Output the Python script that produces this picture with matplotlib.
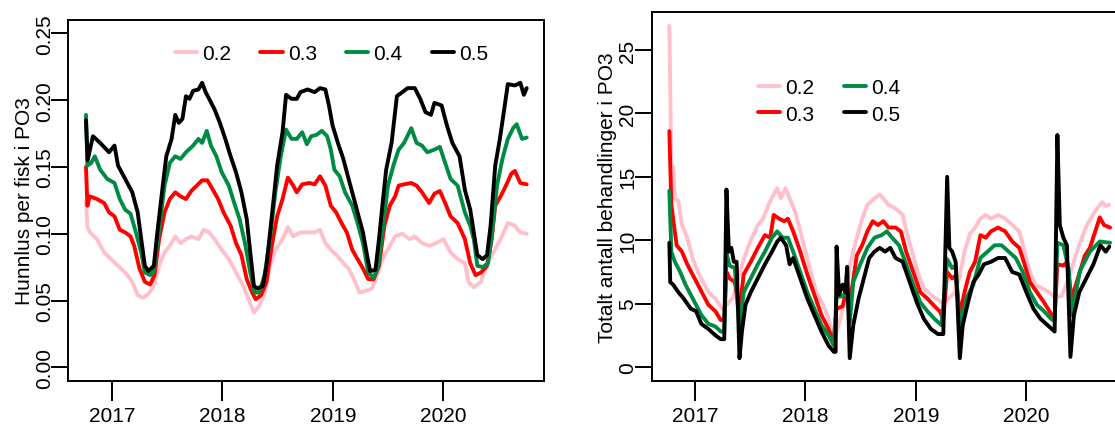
import matplotlib.pyplot as plt

plt.rcParams['font.family'] = ['Liberation Sans', 'DejaVu Sans']

years = [2017, 2018, 2019, 2020]
levels = ['0.2', '0.3', '0.4', '0.5']
colors = ['#FFC0CB', '#FF0000', '#008B45', '#000000']

# Hunnlus per fisk i PO3 (decimal year, value) for each level
lus_t_02 = [2016.765, 2016.778, 2016.800, 2016.864, 2016.929, 2016.990, 2017.055, 2017.120, 2017.184, 2017.233,
            2017.282, 2017.330, 2017.379, 2017.427, 2017.476, 2017.524, 2017.573, 2017.621, 2017.670, 2017.718,
            2017.783, 2017.832, 2017.880, 2017.929, 2017.994, 2018.058, 2018.123, 2018.188, 2018.236, 2018.285,
            2018.333, 2018.382, 2018.430, 2018.479, 2018.544, 2018.592, 2018.641, 2018.706, 2018.770, 2018.835,
            2018.883, 2018.932, 2018.981, 2019.045, 2019.094, 2019.142, 2019.191, 2019.239, 2019.288, 2019.353,
            2019.401, 2019.450, 2019.515, 2019.563, 2019.628, 2019.693, 2019.741, 2019.806, 2019.871, 2019.935,
            2020.000, 2020.065, 2020.129, 2020.194, 2020.227, 2020.275, 2020.340, 2020.388, 2020.453, 2020.518,
            2020.583, 2020.647, 2020.696, 2020.754]
lus_02 = [0.125, 0.105, 0.101, 0.096, 0.086, 0.081, 0.076, 0.071, 0.064, 0.054,
          0.052, 0.055, 0.061, 0.076, 0.086, 0.091, 0.098, 0.093, 0.096, 0.098,
          0.096, 0.103, 0.101, 0.096, 0.088, 0.081, 0.071, 0.061, 0.051, 0.041,
          0.046, 0.056, 0.076, 0.088, 0.096, 0.105, 0.098, 0.101, 0.101, 0.101,
          0.103, 0.093, 0.088, 0.083, 0.078, 0.074, 0.066, 0.056, 0.057, 0.059,
          0.069, 0.081, 0.091, 0.098, 0.100, 0.096, 0.098, 0.093, 0.091, 0.093,
          0.096, 0.086, 0.081, 0.078, 0.064, 0.060, 0.064, 0.076, 0.086, 0.096,
          0.108, 0.106, 0.101, 0.100]

lus_t_03 = [2016.765, 2016.778, 2016.800, 2016.864, 2016.929, 2016.974, 2017.023, 2017.071, 2017.120, 2017.168,
            2017.201, 2017.249, 2017.298, 2017.346, 2017.385, 2017.427, 2017.476, 2017.524, 2017.573, 2017.621,
            2017.670, 2017.718, 2017.767, 2017.816, 2017.864, 2017.913, 2017.961, 2018.010, 2018.074, 2018.123,
            2018.172, 2018.220, 2018.269, 2018.301, 2018.350, 2018.398, 2018.447, 2018.495, 2018.544, 2018.592,
            2018.641, 2018.673, 2018.722, 2018.786, 2018.835, 2018.883, 2018.932, 2018.981, 2019.029, 2019.078,
            2019.126, 2019.175, 2019.223, 2019.272, 2019.320, 2019.369, 2019.417, 2019.466, 2019.515, 2019.563,
            2019.595, 2019.644, 2019.709, 2019.757, 2019.806, 2019.871, 2019.919, 2019.968, 2020.016, 2020.065,
            2020.129, 2020.194, 2020.243, 2020.291, 2020.340, 2020.395, 2020.437, 2020.469, 2020.518, 2020.566,
            2020.615, 2020.647, 2020.696, 2020.754]
lus_03 = [0.150, 0.121, 0.128, 0.126, 0.123, 0.116, 0.113, 0.103, 0.101, 0.098,
          0.091, 0.074, 0.064, 0.062, 0.069, 0.096, 0.116, 0.126, 0.131, 0.128,
          0.126, 0.132, 0.136, 0.140, 0.140, 0.133, 0.126, 0.116, 0.106, 0.093,
          0.084, 0.066, 0.056, 0.051, 0.054, 0.064, 0.091, 0.113, 0.126, 0.142,
          0.136, 0.131, 0.137, 0.138, 0.137, 0.143, 0.136, 0.121, 0.116, 0.108,
          0.101, 0.088, 0.081, 0.074, 0.066, 0.066, 0.076, 0.106, 0.121, 0.128,
          0.136, 0.137, 0.138, 0.136, 0.131, 0.123, 0.130, 0.132, 0.123, 0.113,
          0.108, 0.096, 0.078, 0.069, 0.071, 0.076, 0.096, 0.121, 0.128, 0.136,
          0.145, 0.147, 0.138, 0.137]

lus_t_04 = [2016.765, 2016.778, 2016.812, 2016.845, 2016.893, 2016.958, 2017.023, 2017.071, 2017.120, 2017.168,
            2017.217, 2017.265, 2017.298, 2017.346, 2017.379, 2017.427, 2017.476, 2017.524, 2017.573, 2017.621,
            2017.670, 2017.735, 2017.783, 2017.816, 2017.858, 2017.896, 2017.945, 2017.994, 2018.058, 2018.107,
            2018.155, 2018.204, 2018.252, 2018.291, 2018.333, 2018.382, 2018.430, 2018.479, 2018.528, 2018.576,
            2018.625, 2018.673, 2018.722, 2018.764, 2018.803, 2018.851, 2018.900, 2018.948, 2018.981, 2019.013,
            2019.061, 2019.110, 2019.175, 2019.223, 2019.272, 2019.320, 2019.369, 2019.411, 2019.450, 2019.498,
            2019.547, 2019.595, 2019.644, 2019.709, 2019.757, 2019.806, 2019.854, 2019.919, 2019.968, 2020.016,
            2020.065, 2020.129, 2020.194, 2020.243, 2020.275, 2020.307, 2020.356, 2020.404, 2020.437, 2020.485,
            2020.534, 2020.583, 2020.631, 2020.663, 2020.712, 2020.754]
lus_04 = [0.189, 0.151, 0.153, 0.158, 0.148, 0.141, 0.138, 0.126, 0.118, 0.115,
          0.101, 0.086, 0.071, 0.069, 0.072, 0.103, 0.136, 0.153, 0.158, 0.156,
          0.161, 0.166, 0.171, 0.168, 0.177, 0.166, 0.158, 0.146, 0.136, 0.123,
          0.111, 0.093, 0.071, 0.056, 0.056, 0.069, 0.096, 0.131, 0.158, 0.178,
          0.171, 0.171, 0.176, 0.167, 0.173, 0.174, 0.177, 0.173, 0.163, 0.148,
          0.143, 0.131, 0.121, 0.108, 0.093, 0.071, 0.067, 0.076, 0.103, 0.136,
          0.151, 0.163, 0.168, 0.179, 0.168, 0.166, 0.161, 0.163, 0.165, 0.153,
          0.141, 0.136, 0.116, 0.106, 0.096, 0.076, 0.075, 0.078, 0.098, 0.136,
          0.156, 0.171, 0.179, 0.182, 0.171, 0.172]

lus_t_05 = [2016.765, 2016.780, 2016.828, 2016.893, 2016.974, 2017.023, 2017.055, 2017.120, 2017.184, 2017.233,
            2017.265, 2017.298, 2017.330, 2017.379, 2017.411, 2017.460, 2017.492, 2017.540, 2017.573, 2017.605,
            2017.638, 2017.670, 2017.702, 2017.735, 2017.783, 2017.816, 2017.848, 2017.880, 2017.929, 2017.977,
            2018.026, 2018.074, 2018.123, 2018.172, 2018.220, 2018.252, 2018.285, 2018.317, 2018.366, 2018.398,
            2018.447, 2018.495, 2018.544, 2018.576, 2018.625, 2018.673, 2018.706, 2018.770, 2018.835, 2018.883,
            2018.932, 2018.964, 2018.997, 2019.045, 2019.094, 2019.142, 2019.191, 2019.239, 2019.272, 2019.304,
            2019.337, 2019.385, 2019.417, 2019.450, 2019.482, 2019.531, 2019.579, 2019.628, 2019.676, 2019.741,
            2019.790, 2019.838, 2019.887, 2019.919, 2019.984, 2020.032, 2020.081, 2020.146, 2020.194, 2020.243,
            2020.275, 2020.307, 2020.356, 2020.395, 2020.427, 2020.469, 2020.511, 2020.550, 2020.583, 2020.647,
            2020.696, 2020.728, 2020.754]
lus_05 = [0.185, 0.155, 0.173, 0.168, 0.161, 0.166, 0.151, 0.141, 0.131, 0.116,
          0.096, 0.076, 0.072, 0.076, 0.101, 0.136, 0.158, 0.171, 0.189, 0.183,
          0.186, 0.203, 0.201, 0.207, 0.208, 0.213, 0.206, 0.201, 0.193, 0.183,
          0.171, 0.158, 0.146, 0.131, 0.111, 0.086, 0.061, 0.059, 0.061, 0.076,
          0.113, 0.151, 0.176, 0.204, 0.201, 0.201, 0.206, 0.208, 0.206, 0.209,
          0.208, 0.196, 0.181, 0.168, 0.156, 0.141, 0.126, 0.111, 0.101, 0.086,
          0.072, 0.073, 0.096, 0.123, 0.148, 0.168, 0.203, 0.206, 0.209, 0.209,
          0.201, 0.191, 0.189, 0.198, 0.196, 0.181, 0.168, 0.158, 0.133, 0.118,
          0.101, 0.084, 0.081, 0.084, 0.106, 0.151, 0.171, 0.193, 0.212, 0.211,
          0.213, 0.204, 0.209]

# Totalt antall behandlinger i PO3 (decimal year, value) for each level
beh_t_02 = [2016.768, 2016.786, 2016.802, 2016.818, 2016.850, 2016.882, 2016.930, 2016.978, 2017.026, 2017.074,
            2017.122, 2017.185, 2017.249, 2017.297, 2017.345, 2017.393, 2017.441, 2017.505, 2017.569, 2017.617,
            2017.665, 2017.713, 2017.745, 2017.777, 2017.819, 2017.857, 2017.905, 2017.953, 2018.001, 2018.049,
            2018.097, 2018.161, 2018.209, 2018.241, 2018.273, 2018.305, 2018.353, 2018.401, 2018.465, 2018.513,
            2018.561, 2018.625, 2018.673, 2018.705, 2018.752, 2018.816, 2018.880, 2018.928, 2018.976, 2019.024,
            2019.072, 2019.136, 2019.200, 2019.248, 2019.296, 2019.344, 2019.392, 2019.440, 2019.488, 2019.536,
            2019.584, 2019.632, 2019.680, 2019.744, 2019.808, 2019.872, 2019.936, 2019.984, 2020.032, 2020.080,
            2020.144, 2020.208, 2020.256, 2020.320, 2020.384, 2020.457, 2020.547, 2020.639, 2020.687, 2020.719,
            2020.751]
beh_02 = [26.9, 16.0, 15.8, 13.3, 13.1, 11.2, 10.2, 8.6, 7.5, 6.7,
          5.9, 5.4, 4.6, 5.0, 5.5, 7.0, 8.5, 10.0, 11.2, 11.7,
          12.8, 13.6, 14.1, 13.3, 14.1, 13.3, 12.3, 10.7, 9.1, 7.5,
          5.9, 4.9, 3.8, 2.8, 2.5, 3.5, 5.0, 8.0, 10.2, 11.7,
          12.8, 13.3, 13.6, 13.3, 12.8, 12.5, 12.0, 10.2, 8.8, 7.3,
          6.2, 5.7, 5.3, 5.0, 5.4, 5.8, 7.0, 9.1, 10.5, 11.0,
          11.7, 12.0, 11.7, 12.0, 11.7, 11.2, 10.7, 9.1, 7.5, 6.5,
          6.2, 5.9, 5.5, 5.6, 7.0, 9.1, 11.2, 12.5, 13.0, 12.7,
          12.8]

beh_t_03 = [2016.768, 2016.786, 2016.802, 2016.834, 2016.882, 2016.930, 2016.978, 2017.026, 2017.074, 2017.122,
            2017.185, 2017.233, 2017.265, 2017.285, 2017.313, 2017.361, 2017.403, 2017.441, 2017.505, 2017.569,
            2017.633, 2017.681, 2017.713, 2017.761, 2017.809, 2017.841, 2017.889, 2017.953, 2018.017, 2018.081,
            2018.145, 2018.209, 2018.257, 2018.282, 2018.337, 2018.369, 2018.401, 2018.465, 2018.513, 2018.561,
            2018.609, 2018.657, 2018.705, 2018.752, 2018.816, 2018.864, 2018.912, 2018.976, 2019.040, 2019.104,
            2019.168, 2019.216, 2019.248, 2019.283, 2019.328, 2019.360, 2019.398, 2019.440, 2019.488, 2019.536,
            2019.584, 2019.632, 2019.680, 2019.744, 2019.808, 2019.872, 2019.936, 2019.984, 2020.032, 2020.096,
            2020.160, 2020.224, 2020.256, 2020.281, 2020.335, 2020.367, 2020.410, 2020.530, 2020.575, 2020.665,
            2020.703, 2020.758]
beh_03 = [18.6, 12.8, 11.7, 9.6, 9.1, 8.1, 7.3, 6.5, 5.7, 4.9,
          4.4, 3.7, 3.8, 7.5, 7.0, 6.7, 4.5, 7.3, 8.3, 9.4,
          10.4, 10.2, 12.0, 11.7, 11.5, 11.7, 10.7, 9.1, 7.3, 5.7,
          4.1, 3.0, 2.0, 4.6, 4.8, 6.0, 5.0, 8.8, 9.6, 10.7,
          11.5, 11.2, 11.5, 11.0, 11.0, 10.7, 9.1, 7.5, 5.9, 5.4,
          4.8, 4.4, 3.8, 7.5, 7.0, 7.2, 4.1, 5.9, 7.5, 8.3,
          10.4, 10.2, 10.7, 11.0, 10.7, 9.9, 9.4, 8.1, 6.7, 5.9,
          5.1, 4.2, 3.9, 8.1, 8.0, 8.3, 5.4, 8.8, 9.4, 11.8,
          11.2, 11.0]

beh_t_04 = [2016.768, 2016.786, 2016.818, 2016.866, 2016.914, 2016.962, 2017.010, 2017.058, 2017.122, 2017.185,
            2017.233, 2017.265, 2017.285, 2017.313, 2017.361, 2017.403, 2017.441, 2017.505, 2017.569, 2017.633,
            2017.697, 2017.745, 2017.793, 2017.841, 2017.889, 2017.953, 2018.017, 2018.081, 2018.145, 2018.209,
            2018.257, 2018.282, 2018.337, 2018.378, 2018.401, 2018.433, 2018.497, 2018.561, 2018.625, 2018.689,
            2018.737, 2018.784, 2018.848, 2018.912, 2018.976, 2019.040, 2019.104, 2019.168, 2019.232, 2019.283,
            2019.328, 2019.360, 2019.398, 2019.456, 2019.520, 2019.584, 2019.648, 2019.712, 2019.776, 2019.840,
            2019.904, 2019.968, 2020.032, 2020.096, 2020.160, 2020.224, 2020.256, 2020.281, 2020.335, 2020.384,
            2020.410, 2020.486, 2020.575, 2020.665, 2020.758]
beh_04 = [13.9, 9.1, 8.3, 7.5, 6.5, 5.7, 4.9, 4.1, 3.4, 3.2,
          2.8, 2.8, 9.0, 8.0, 7.8, 3.0, 5.9, 7.0, 8.1, 9.1,
          10.2, 10.7, 10.2, 10.2, 9.1, 7.5, 5.9, 4.6, 3.3, 2.5,
          1.7, 5.5, 5.6, 6.0, 3.5, 6.7, 8.1, 9.4, 10.2, 10.4,
          10.7, 10.2, 9.6, 8.1, 6.5, 5.1, 4.4, 3.8, 3.3, 8.5,
          7.8, 8.0, 3.0, 5.4, 6.5, 8.6, 9.1, 9.6, 9.6, 9.1,
          8.6, 7.5, 5.9, 4.9, 4.4, 3.8, 3.6, 9.8, 9.6, 7.7,
          4.1, 7.6, 9.1, 9.9, 9.8]

beh_t_05 = [2016.768, 2016.776, 2016.802, 2016.850, 2016.898, 2016.962, 2017.010, 2017.058, 2017.122, 2017.185,
            2017.233, 2017.265, 2017.285, 2017.307, 2017.329, 2017.352, 2017.377, 2017.403, 2017.425, 2017.457,
            2017.505, 2017.569, 2017.633, 2017.697, 2017.745, 2017.777, 2017.825, 2017.857, 2017.889, 2017.953,
            2018.017, 2018.081, 2018.145, 2018.209, 2018.257, 2018.273, 2018.282, 2018.305, 2018.337, 2018.362,
            2018.378, 2018.401, 2018.433, 2018.481, 2018.529, 2018.577, 2018.625, 2018.673, 2018.721, 2018.768,
            2018.816, 2018.880, 2018.944, 2019.008, 2019.072, 2019.136, 2019.200, 2019.248, 2019.283, 2019.303,
            2019.328, 2019.360, 2019.398, 2019.424, 2019.472, 2019.520, 2019.568, 2019.616, 2019.680, 2019.744,
            2019.808, 2019.872, 2019.936, 2020.000, 2020.064, 2020.128, 2020.192, 2020.256, 2020.281, 2020.303,
            2020.335, 2020.367, 2020.399, 2020.431, 2020.479, 2020.543, 2020.607, 2020.671, 2020.719, 2020.751]
beh_05 = [9.8, 6.7, 6.5, 5.9, 5.4, 4.6, 4.4, 3.4, 3.0, 2.5,
          2.2, 2.2, 14.0, 9.1, 9.4, 8.3, 8.3, 0.7, 2.8, 4.9,
          5.9, 7.0, 8.1, 9.1, 9.9, 10.2, 9.6, 8.1, 8.6, 7.0,
          5.4, 4.1, 2.8, 1.7, 1.2, 1.2, 9.5, 5.7, 6.5, 5.9,
          7.9, 0.7, 3.3, 5.4, 7.0, 8.6, 9.1, 9.4, 9.1, 9.4,
          8.6, 8.3, 6.7, 5.1, 3.8, 3.0, 2.6, 2.6, 15.0, 9.4,
          9.1, 8.3, 0.7, 3.3, 5.1, 6.7, 7.3, 8.1, 8.3, 8.6,
          8.6, 7.5, 7.3, 5.9, 4.6, 3.8, 3.3, 2.8, 18.3, 11.2,
          10.2, 9.6, 0.8, 4.1, 5.9, 7.0, 8.1, 9.6, 9.1, 9.5]

lus_series = [(lus_t_02, lus_02), (lus_t_03, lus_03), (lus_t_04, lus_04), (lus_t_05, lus_05)]
beh_series = [(beh_t_02, beh_02), (beh_t_03, beh_03), (beh_t_04, beh_04), (beh_t_05, beh_05)]


def draw_panel(ax, series, ylim, yticks, yticklabels, ylabel):
    for (t, v), col, lab in zip(series, colors, levels):
        ax.plot(t, v, color=col, lw=2.8, label=lab,
                solid_joinstyle='round', solid_capstyle='round')
    # R-style 4 % padding around the data range
    tmin = min(min(t) for t, _ in series)
    tmax = max(max(t) for t, _ in series)
    pad = 0.04 * (tmax - tmin)
    ax.set_xlim(tmin - pad, tmax + pad)
    ypad = 0.04 * (ylim[1] - ylim[0])
    ax.set_ylim(ylim[0] - ypad, ylim[1] + ypad)
    ax.set_xticks(years)
    ax.set_xticklabels([str(y) for y in years])
    ax.set_yticks(yticks)
    ax.set_yticklabels(yticklabels, rotation=90, va='center')
    ax.tick_params(axis='x', length=14.4, width=1.4, pad=3.6, labelsize=15)
    ax.tick_params(axis='y', length=12, width=1.4, pad=-1.5, labelsize=15)
    for s in ax.spines.values():
        s.set_linewidth(1.4)
    ax.set_ylabel(ylabel, fontsize=15)
    ax.yaxis.set_label_coords(-0.072, 0.5)


fig = plt.figure(figsize=(11.15, 4.27), dpi=100)
ax1 = fig.add_axes([0.0613, 0.1061, 0.4269, 0.8447])
ax2 = fig.add_axes([0.5845, 0.1061, 0.4269, 0.8628])

draw_panel(ax1, lus_series, (0, 0.25), [0, 0.05, 0.10, 0.15, 0.20, 0.25],
           ['0.00', '0.05', '0.10', '0.15', '0.20', '0.25'], 'Hunnlus per fisk i PO3')
beh_max = max(max(v) for _, v in beh_series)
draw_panel(ax2, beh_series, (0, beh_max), [0, 5, 10, 15, 20, 25],
           ['0', '5', '10', '15', '20', '25'], 'Totalt antall behandlinger i PO3')

leg_kw = dict(frameon=False, fontsize=15, handlelength=1.06, handletextpad=0.25,
              columnspacing=1.4, borderpad=0, borderaxespad=0, loc='center left',
              bbox_transform=fig.transFigure)
ax1.legend(ncol=4, bbox_to_anchor=(175 / 1115, 1 - 55 / 427), **leg_kw)
ax2.legend(ncol=2, labelspacing=0.35, bbox_to_anchor=(758 / 1115, 1 - 102 / 427), **leg_kw)

fig.savefig('out.png', dpi=100)
